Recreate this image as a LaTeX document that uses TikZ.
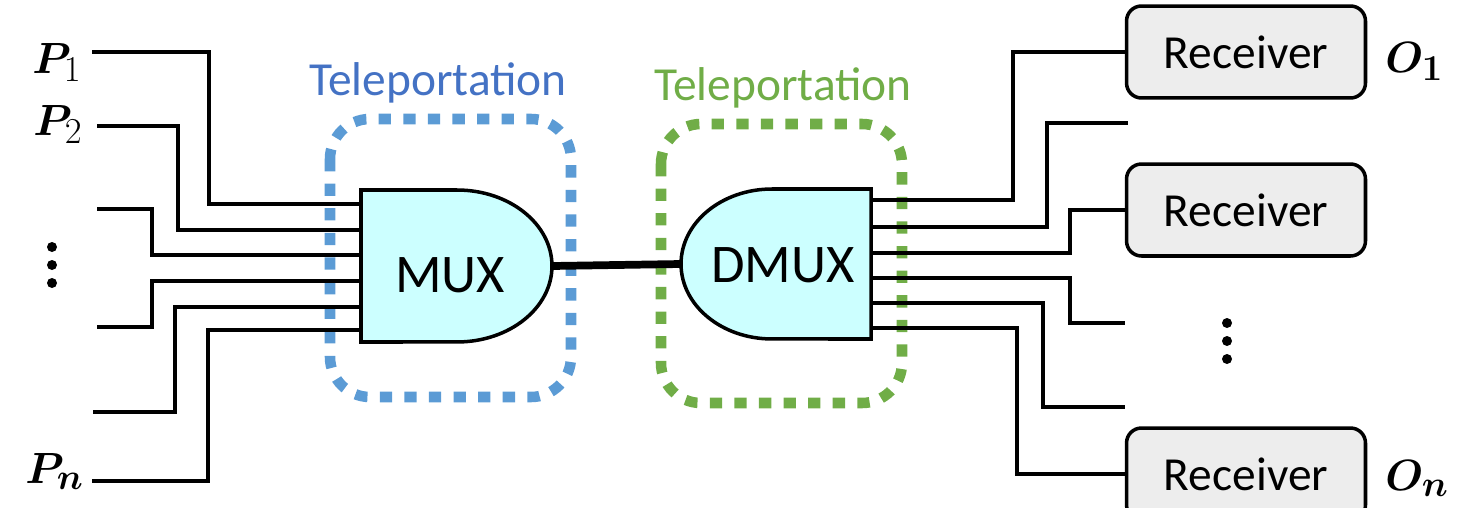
\documentclass[tikz,border=0pt]{standalone}
\usepackage{amsmath,bm}
\usepackage{fontspec}
\newfontfamily\calibrifont{Carlito}
\usetikzlibrary{positioning,calc}
\definecolor{teleblue}{HTML}{5B9BD5}
\definecolor{teletext}{HTML}{4472C4}
\definecolor{telegreen}{HTML}{70AD47}
\definecolor{muxcyan}{HTML}{CCFFFF}
\definecolor{rxgray}{HTML}{EDEDED}
\tikzset{
    wire/.style={draw=black,line width=2pt},
    trunk/.style={draw=black,line width=4.4pt},
    gate/.style={draw=black,fill=muxcyan,line width=2pt},
    gatetext/.style={font=\calibrifont\fontsize{31}{36}\selectfont,inner sep=0pt},
    receiver/.style={rectangle,rounded corners=0.3cm,draw=black,fill=rxgray,line width=2pt,
        minimum width=4.78cm,minimum height=1.84cm,inner sep=0pt,font=\calibrifont\fontsize{27}{32}\selectfont},
    telebox/.style={rounded corners=0.8cm,line width=6pt,dash pattern=on 7pt off 7pt},
    telelabel/.style={font=\calibrifont\fontsize{27}{32}\selectfont,inner sep=0pt},
    portlabel/.style={font=\Huge,inner sep=0pt,anchor=base west}
}

\begin{document}
\begin{tikzpicture}[x=0.02cm,y=-0.02cm]
    \useasboundingbox (0,0) rectangle (1459,507);

    % teleportation regions
    \draw[telebox,draw=teleblue] (330,119) rectangle (571,397);
    \draw[telebox,draw=telegreen] (661,124) rectangle (902,403);
    \node[telelabel,text=teletext,anchor=base] (tele-mux) at (438,95) {Teleportation};
    \node[telelabel,text=telegreen,anchor=base] (tele-dmux) at (783,100) {Teleportation};

    % gates
    \draw[gate] (361,190) -- (457,190)
        arc[start angle=90,end angle=-90,x radius=1.9cm,y radius=1.52cm] -- (361,342) -- cycle;
    \node[gatetext] (mux) at (450,275) {MUX};
    \draw[gate] (871,189) -- (772,189)
        arc[start angle=90,end angle=270,x radius=1.82cm,y radius=1.5cm] -- (871,339) -- cycle;
    \node[gatetext] (dmux) at (783,265) {DMUX};

    \foreach \i/\y in {1/204,2/230,3/255,4/281,5/307,6/330}
        \coordinate (mux-in-\i) at (361,\y);
    \foreach \i/\y in {1/200,2/227,3/253,4/278,5/303,6/328}
        \coordinate (dmux-out-\i) at (871,\y);
    \coordinate (mux-out) at (552,266);
    \coordinate (dmux-in) at (681,264);
    \draw[trunk] (mux-out) -- (dmux-in);

    % receivers
    \node[receiver] (rx1) at (1246,52) {Receiver};
    \node[receiver] (rx2) at (1246,210) {Receiver};
    \node[receiver] (rxn) at (1246,474) {Receiver};

    % input wires
    \foreach \i/\x/\y/\k in {1/92/52/209,2/97/126/178,3/97/209/152,4/97/327/152,5/93/412/175,6/92/481/208}{
        \coordinate (src-\i) at (\x,\y);
        \draw[wire] (src-\i) -- (\k,\y) |- (mux-in-\i);
    }

    % output wires
    \coordinate (dst-1) at (rx1.west);
    \coordinate (dst-2) at (1128,123);
    \coordinate (dst-3) at (rx2.west);
    \coordinate (dst-4) at (1125,323);
    \coordinate (dst-5) at (1125,407);
    \coordinate (dst-6) at (rxn.west);
    \foreach \i/\y/\k in {1/200/1013,2/227/1047,3/253/1070,4/278/1070,5/303/1043,6/328/1017}
        \draw[wire] (dmux-out-\i) -- (\k,\y) |- (dst-\i);

    % port labels
    \node[portlabel] (P1) at (32,73) {$\bm{P}_1$};
    \node[portlabel] (P2) at (33,135) {$\bm{P}_2$};
    \node[portlabel] (Pn) at (25,483) {$\bm{P_n}$};
    \node[portlabel] (O1) at (1385,72) {$\bm{O_1}$};
    \node[portlabel] (On) at (1385,490) {$\bm{O_n}$};

    \foreach \y in {247,265,283}
        \fill (52,\y) circle (0.1cm);
    \foreach \y in {323,341,359}
        \fill (1227,\y) circle (0.1cm);
\end{tikzpicture}
\end{document}
